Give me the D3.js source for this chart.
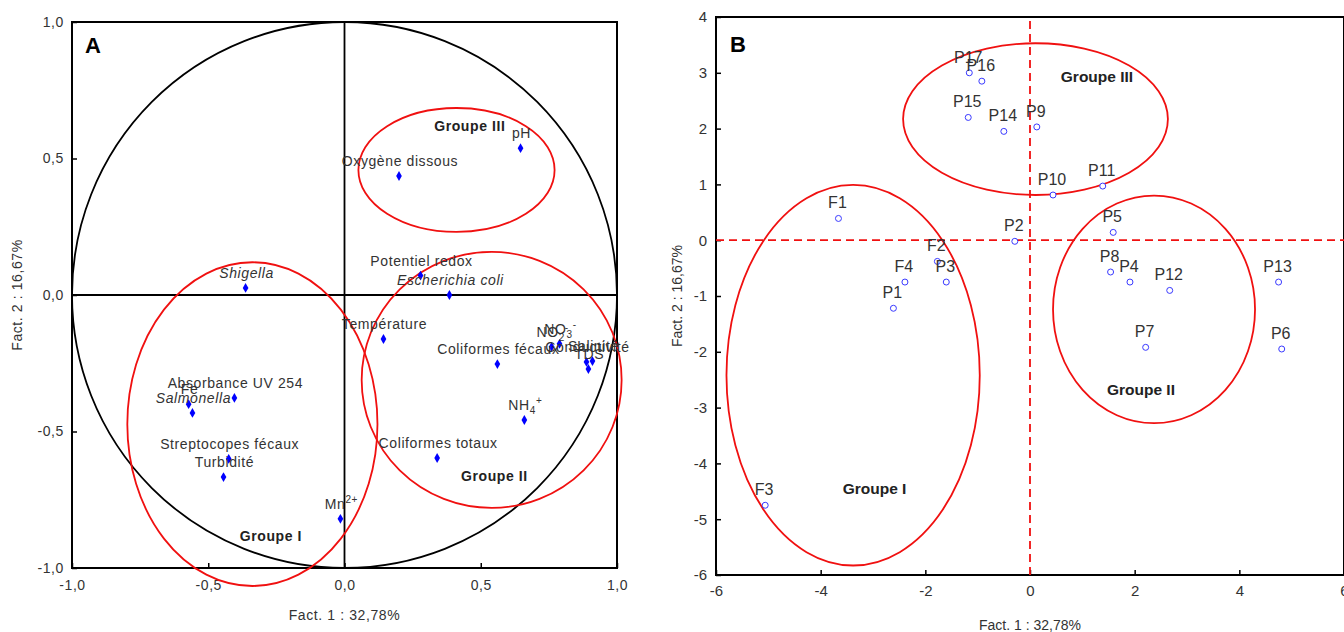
<!DOCTYPE html>
<style>
body { margin: 0; background: #fff; font-family: 'Liberation Sans', Arial, sans-serif; }
.tick text { fill: #333; font-family: 'Liberation Sans', Arial, sans-serif; }
.tick line { stroke: #000; stroke-width: 1.5; }
.axis .domain { display: none; }
.pa text { letter-spacing: 0.6px; }
</style>
<svg width="1344" height="632"></svg>
<script src="https://cdn.jsdelivr.net/npm/d3@7"></script>
<script>
// panel A : variables (correlation circle)
var varNames = ["pH", "Oxygène dissous", "Potentiel redox", "*Escherichia coli", "Température",
  "Coliformes fécaux", "NO_{2}^{-}", "NO_{3}^{-}", "Conductivité", "Salinité", "TDS", "NH_{4}^{+}",
  "Coliformes totaux", "Mn^{2+}", "*Shigella", "Absorbance UV 254", "Fe", "*Salmonella",
  "Streptocopes fécaux", "Turbidité"];
var varX = [0.646, 0.20, 0.279, 0.385, 0.143, 0.561, 0.760, 0.789, 0.888, 0.910, 0.895, 0.660,
  0.340, -0.015, -0.363, -0.404, -0.572, -0.558, -0.425, -0.444];
var varY = [0.538, 0.436, 0.071, 0.0, -0.161, -0.253, -0.190, -0.179, -0.245, -0.242, -0.271, -0.458,
  -0.597, -0.820, 0.026, -0.377, -0.400, -0.432, -0.600, -0.667];

// groups drawn on panel A (centre and radii in factor units)
var groupNamesA = ["Groupe III", "Groupe II", "Groupe I"];
var groupCxA = [0.411, 0.540, -0.338];
var groupCyA = [0.458, -0.311, -0.473];
var groupRxA = [0.360, 0.477, 0.459];
var groupRyA = [0.227, 0.469, 0.593];
var groupLabelXA = [0.46, 0.55, -0.27];
var groupLabelYA = [0.60, -0.68, -0.90];

// panel B : observations
var obsNames = ["P17", "P16", "P15", "P14", "P9", "P10", "P11", "F1", "P2", "F2", "P3", "F4", "P1",
  "F3", "P5", "P8", "P4", "P12", "P7", "P13", "P6"];
var obsX = [-1.16, -0.92, -1.18, -0.50, 0.13, 0.44, 1.39, -3.66, -0.29, -1.77, -1.60, -2.39, -2.61,
  -5.06, 1.59, 1.54, 1.91, 2.67, 2.21, 4.75, 4.81];
var obsY = [3.00, 2.85, 2.20, 1.95, 2.03, 0.81, 0.97, 0.39, -0.02, -0.38, -0.75, -0.75, -1.22,
  -4.75, 0.14, -0.57, -0.75, -0.90, -1.92, -0.75, -1.95];

var groupNamesB = ["Groupe III", "Groupe II", "Groupe I"];
var groupCxB = [0.105, 2.37, -3.38];
var groupCyB = [2.17, -1.24, -2.42];
var groupRxB = [2.53, 1.93, 2.42];
var groupRyB = [1.36, 2.04, 3.41];
var groupLabelXB = [1.28, 2.12, -2.97];
var groupLabelYB = [2.83, -2.78, -4.55];

var ticksA = [-1, -0.5, 0, 0.5, 1];
var ticksBx = [-6, -4, -2, 0, 2, 4, 6];
var ticksBy = [4, 3, 2, 1, 0, -1, -2, -3, -4, -5, -6];

var svg = d3.select("svg");
var red = "#f01010";

// scales
var xA = d3.scaleLinear().domain([-1, 1]).range([72, 617]);
var yA = d3.scaleLinear().domain([-1, 1]).range([568, 22]);
var xB = d3.scaleLinear().domain([-6, 6]).range([716, 1344]);
var yB = d3.scaleLinear().domain([-6, 4]).range([575, 17]);

var commaFmt = function(d) { return d3.format(".1f")(d).replace(".", ",").replace("\u2212", "-"); };
var intFmt = function(d) { return String(d); };

// write a label with _{sub} and ^{sup} parts, * prefix = italic
function richText(sel, s) {
  if (s[0] === "*") { sel.style("font-style", "italic"); s = s.slice(1); }
  var parts = s.split(/(_\{[^}]*\}|\^\{[^}]*\})/).filter(function(p) { return p.length; });
  var shift = 0;
  parts.forEach(function(p) {
    var t = sel.append("tspan");
    if (p[0] === "_" || p[0] === "^") {
      var target = p[0] === "_" ? 4 : -6;
      t.attr("dy", target - shift).attr("font-size", "10px").text(p.slice(2, -1));
      shift = target;
    } else {
      t.attr("dy", -shift).text(p);
      shift = 0;
    }
  });
}

function drawAxes(g, x, y, xt, yt, fmt, o) {
  var ax = g.append("g").attr("class", "axis")
    .attr("transform", "translate(" + x.range()[0] + ",0)")
    .call(d3.axisLeft(y).tickValues(yt).tickSizeInner(-5).tickSizeOuter(0).tickPadding(o.padY).tickFormat(fmt));
  var bx = g.append("g").attr("class", "axis")
    .attr("transform", "translate(0," + y.range()[0] + ")")
    .call(d3.axisBottom(x).tickValues(xt).tickSizeInner(-5).tickSizeOuter(0).tickPadding(o.padX).tickFormat(fmt));
  ax.selectAll("text").style("font-size", o.tickSize + "px");
  bx.selectAll("text").style("font-size", o.tickSize + "px");
  g.append("rect")
    .attr("x", x.range()[0]).attr("y", y.range()[1])
    .attr("width", x.range()[1] - x.range()[0]).attr("height", y.range()[0] - y.range()[1])
    .attr("fill", "none").attr("stroke", "#000").attr("stroke-width", 2);
  g.append("text")
    .attr("x", (x.range()[0] + x.range()[1]) / 2).attr("y", o.xTitleY)
    .attr("text-anchor", "middle").attr("font-size", 14).attr("fill", "#333")
    .text("Fact. 1  : 32,78%");
  g.append("text")
    .attr("transform", "translate(" + o.yTitleX + "," + (y.range()[0] + y.range()[1]) / 2 + ") rotate(-90)")
    .attr("text-anchor", "middle").attr("font-size", 14).attr("fill", "#333")
    .text("Fact. 2  : 16,67%");
}

// ---------- panel A ----------
var gA = svg.append("g").attr("class", "pa");
drawAxes(gA, xA, yA, ticksA, ticksA, commaFmt, { padX: 12, padY: 8, tickSize: 14, xTitleY: 620, yTitleX: 22 });

gA.append("ellipse")
  .attr("cx", xA(0)).attr("cy", yA(0))
  .attr("rx", xA(1) - xA(0)).attr("ry", yA(0) - yA(1))
  .attr("fill", "none").attr("stroke", "#000").attr("stroke-width", 1.8);
gA.append("line").attr("x1", xA(-1)).attr("x2", xA(1)).attr("y1", yA(0)).attr("y2", yA(0))
  .attr("stroke", "#000").attr("stroke-width", 1.8);
gA.append("line").attr("x1", xA(0)).attr("x2", xA(0)).attr("y1", yA(-1)).attr("y2", yA(1))
  .attr("stroke", "#000").attr("stroke-width", 1.8);

gA.selectAll("ellipse.grp").data(groupNamesA).enter().append("ellipse")
  .attr("class", "grp")
  .attr("cx", function(d, i) { return xA(groupCxA[i]); })
  .attr("cy", function(d, i) { return yA(groupCyA[i]); })
  .attr("rx", function(d, i) { return xA(groupRxA[i]) - xA(0); })
  .attr("ry", function(d, i) { return yA(0) - yA(groupRyA[i]); })
  .attr("fill", "none").attr("stroke", red).attr("stroke-width", 1.8);

gA.selectAll("text.grp").data(groupNamesA).enter().append("text")
  .attr("class", "grp")
  .attr("x", function(d, i) { return xA(groupLabelXA[i]); })
  .attr("y", function(d, i) { return yA(groupLabelYA[i]); })
  .attr("text-anchor", "middle").attr("font-weight", "bold").attr("font-size", 14).attr("fill", "#222")
  .text(function(d) { return d; });

gA.selectAll("path.pt").data(varNames).enter().append("path")
  .attr("class", "pt")
  .attr("d", d3.symbol().type(d3.symbolDiamond).size(28))
  .attr("transform", function(d, i) { return "translate(" + xA(varX[i]) + "," + yA(varY[i]) + ")"; })
  .attr("fill", "#0000ff");

gA.selectAll("text.lbl").data(varNames).enter().append("text")
  .attr("class", "lbl")
  .attr("x", function(d, i) { return xA(varX[i]) + 1; })
  .attr("y", function(d, i) { return yA(varY[i]) - 10; })
  .attr("text-anchor", "middle").attr("font-size", 14).attr("fill", "#333")
  .each(function(d) { richText(d3.select(this), d); });

gA.append("text").attr("x", 85).attr("y", 53).attr("font-size", 22).attr("font-weight", "bold")
  .attr("fill", "#000").text("A");

// ---------- panel B ----------
var gB = svg.append("g").attr("class", "pb");
drawAxes(gB, xB, yB, ticksBx, ticksBy, intFmt, { padX: 10, padY: 9, tickSize: 15, xTitleY: 630, yTitleX: 682 });

gB.append("line").attr("x1", xB(-6)).attr("x2", xB(6)).attr("y1", yB(0)).attr("y2", yB(0))
  .attr("stroke", red).attr("stroke-width", 1.8).attr("stroke-dasharray", "8,5");
gB.append("line").attr("x1", xB(0)).attr("x2", xB(0)).attr("y1", yB(-6)).attr("y2", yB(4))
  .attr("stroke", red).attr("stroke-width", 1.8).attr("stroke-dasharray", "8,5");

gB.selectAll("ellipse.grp").data(groupNamesB).enter().append("ellipse")
  .attr("class", "grp")
  .attr("cx", function(d, i) { return xB(groupCxB[i]); })
  .attr("cy", function(d, i) { return yB(groupCyB[i]); })
  .attr("rx", function(d, i) { return xB(groupRxB[i]) - xB(0); })
  .attr("ry", function(d, i) { return yB(0) - yB(groupRyB[i]); })
  .attr("fill", "none").attr("stroke", red).attr("stroke-width", 1.8);

gB.selectAll("text.grp").data(groupNamesB).enter().append("text")
  .attr("class", "grp")
  .attr("x", function(d, i) { return xB(groupLabelXB[i]); })
  .attr("y", function(d, i) { return yB(groupLabelYB[i]); })
  .attr("text-anchor", "middle").attr("font-weight", "bold").attr("font-size", 15.5).attr("fill", "#222")
  .text(function(d) { return d; });

gB.selectAll("circle.pt").data(obsNames).enter().append("circle")
  .attr("class", "pt")
  .attr("cx", function(d, i) { return xB(obsX[i]); })
  .attr("cy", function(d, i) { return yB(obsY[i]); })
  .attr("r", 3)
  .attr("fill", "#fff").attr("stroke", "#3a3aff").attr("stroke-width", 1);

gB.selectAll("text.lbl").data(obsNames).enter().append("text")
  .attr("class", "lbl")
  .attr("x", function(d, i) { return xB(obsX[i]) - 1; })
  .attr("y", function(d, i) { return yB(obsY[i]) - 10; })
  .attr("text-anchor", "middle").attr("font-size", 16).attr("fill", "#333")
  .text(function(d) { return d; });

gB.append("text").attr("x", 730).attr("y", 52).attr("font-size", 22).attr("font-weight", "bold")
  .attr("fill", "#000").text("B");
</script>
